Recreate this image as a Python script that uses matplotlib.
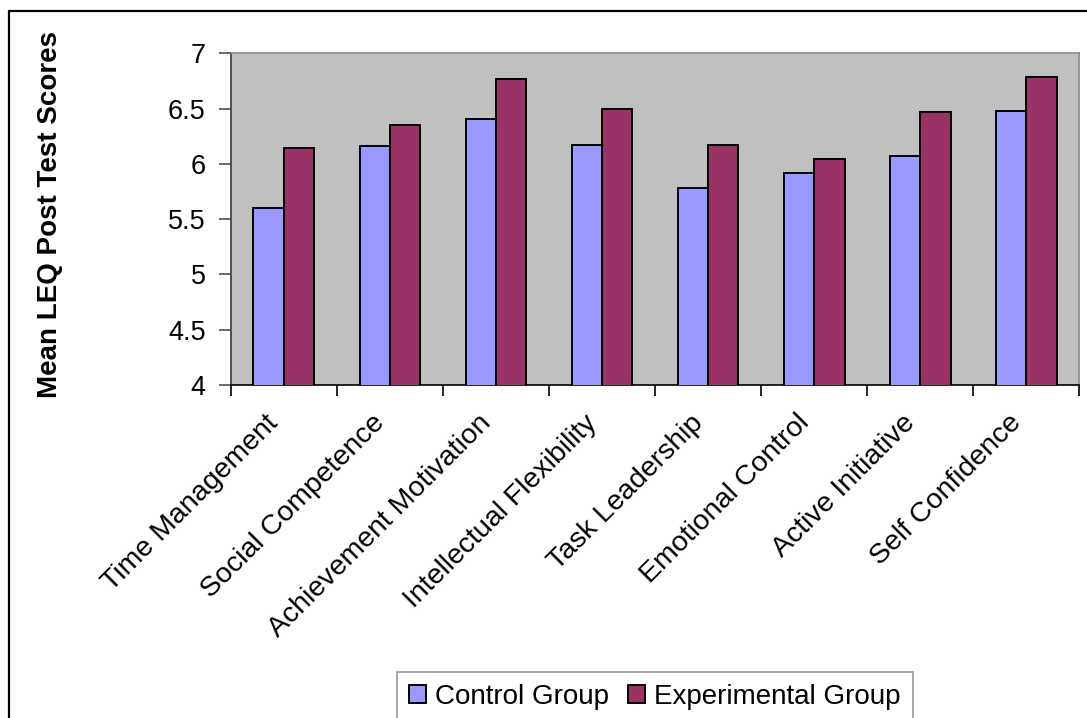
import numpy as np
import matplotlib
matplotlib.use("Agg")
import matplotlib.pyplot as plt
from matplotlib.patches import Rectangle

# --- データ ---
categories = ["Time Management", "Social Competence", "Achievement Motivation",
              "Intellectual Flexibility", "Task Leadership", "Emotional Control",
              "Active Initiative", "Self Confidence"]
control_scores = [5.60, 6.16, 6.41, 6.17, 5.78, 5.92, 6.07, 6.48]
experimental_scores = [6.14, 6.35, 6.77, 6.50, 6.17, 6.04, 6.47, 6.79]
y_ticks = [4, 4.5, 5, 5.5, 6, 6.5, 7]
y_tick_labels = ["4", "4.5", "5", "5.5", "6", "6.5", "7"]

plt.rcParams['font.family'] = ['Liberation Sans', 'DejaVu Sans']

W, H = 1087, 718
fig = plt.figure(figsize=(W / 100, H / 100), dpi=100)

# 外枠
fig.patches.append(Rectangle((9 / W, -0.05), 1.2, 1 - 11 / H + 0.05,
                             transform=fig.transFigure, fill=False,
                             edgecolor='black', linewidth=1.6))

left, right, top, bottom = 230.7, 1079.5, 53.3, 385.0
ax = fig.add_axes([left / W, 1 - bottom / H, (right - left) / W, (bottom - top) / H])
ax.set_facecolor('#C0C0C0')

x = np.arange(len(categories))
w = 1 / 3.5  # 系列の間隔 150%
ax.bar(x - w / 2, control_scores, w, color='#9999FF', edgecolor='black',
       linewidth=1.4, label='Control Group', zorder=3)
ax.bar(x + w / 2, experimental_scores, w, color='#993366', edgecolor='black',
       linewidth=1.4, label='Experimental Group', zorder=3)

ax.set_xlim(-0.5, len(categories) - 0.5)
ax.set_ylim(4, 7)
ax.set_yticks(y_ticks)
ax.set_yticklabels(y_tick_labels, fontsize=19.5)
ax.tick_params(axis='y', length=9, width=1.2, color='#505050', pad=9)

# 区切り位置に目盛り、カテゴリ中央にラベル
ax.set_xticks(np.arange(len(categories) + 1) - 0.5)
ax.set_xticklabels([])
ax.set_xticks(x, minor=True)
ax.set_xticklabels(categories, minor=True, rotation=45, ha='right', va='top',
                   fontsize=20.5)
ax.tick_params(axis='x', which='major', length=8, width=1.2, color='black')
ax.tick_params(axis='x', which='minor', length=0, pad=18)

for side in ['top', 'right']:
    ax.spines[side].set_color('#888888')
    ax.spines[side].set_linewidth(1.2)
ax.spines['left'].set_color('#505050')
ax.spines['left'].set_linewidth(1.4)
ax.spines['bottom'].set_color('black')
ax.spines['bottom'].set_linewidth(1.2)

fig.text(50 / W, 1 - 215 / H, "Mean LEQ Post Test Scores", rotation=90,
         ha='center', va='center', fontsize=20, fontweight='bold')

leg = fig.legend(loc='center', bbox_to_anchor=(655 / W, 1 - 697 / H),
                 ncol=2, fontsize=20, frameon=True, fancybox=False,
                 handlelength=0.6, handleheight=0.6, handletextpad=0.32,
                 columnspacing=0.7, borderpad=0.45)
leg.get_frame().set_edgecolor('#808080')
leg.get_frame().set_linewidth(1.2)

fig.savefig("out.png", dpi=100)
